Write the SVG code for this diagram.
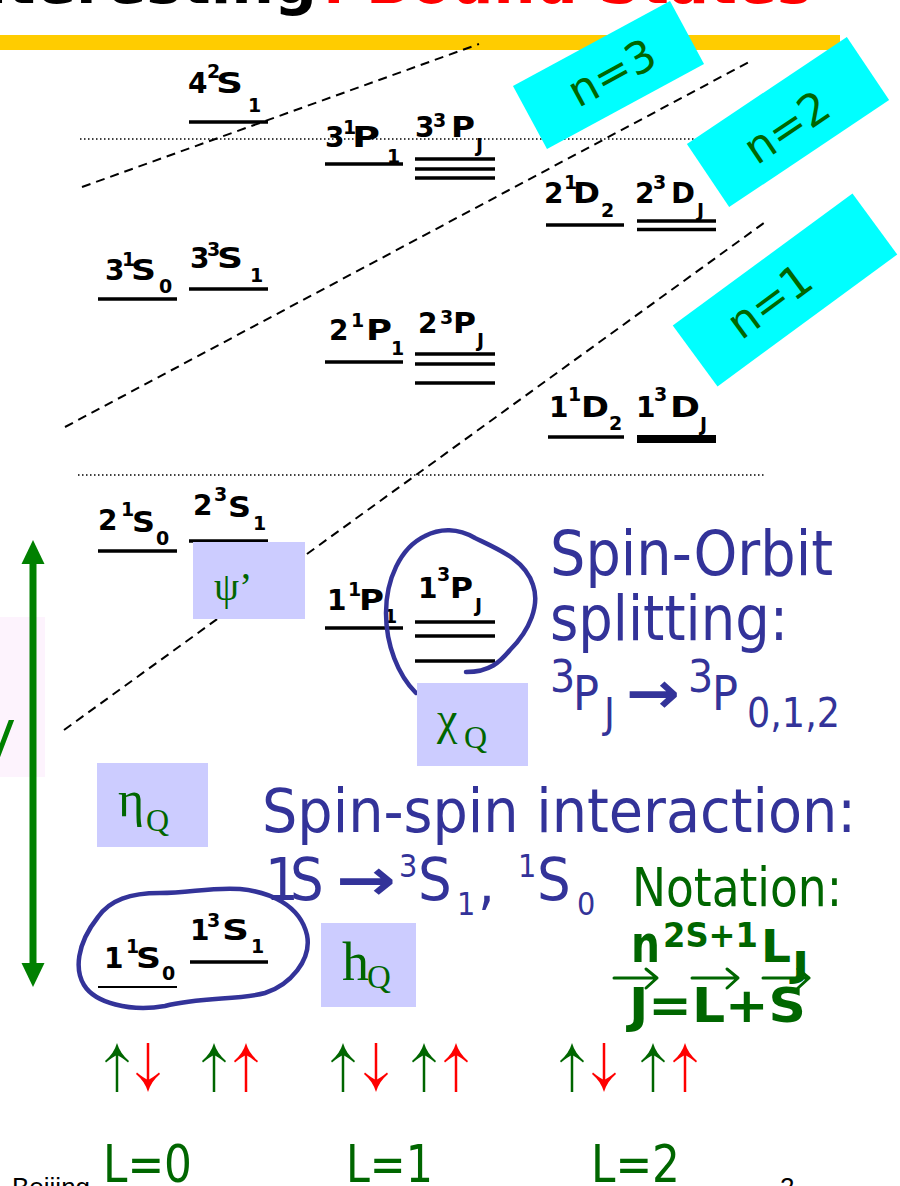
<svg xmlns="http://www.w3.org/2000/svg" width="900" height="1186" viewBox="0 0 900 1186">
<defs>
<style>
.lvl{stroke:#000;stroke-width:3.5}
.lbl{font-family:"DejaVu Sans","Liberation Sans",sans-serif;font-weight:bold;font-size:28px;fill:#000}
.sm{font-size:19px}
.dash{stroke:#000;stroke-width:2;stroke-dasharray:9 6;fill:none}
.dot{stroke:#000;stroke-width:1.5;stroke-dasharray:1.5 2.5}
.cyan{fill:#00FFFF}
.nlab{font-family:"DejaVu Sans",sans-serif;font-size:44px;fill:#006600}
.lav{fill:#CCCCFF}
.gk{font-family:"Liberation Serif","Times New Roman",serif;fill:#006600}
.blue{font-family:"DejaVu Sans Condensed","DejaVu Sans",sans-serif;fill:#333399}
.dg{font-family:"DejaVu Sans Condensed","DejaVu Sans",sans-serif;fill:#006600}
.dgb{font-family:"DejaVu Sans Condensed","DejaVu Sans",sans-serif;font-weight:bold;fill:#006600}
.loop{fill:none;stroke:#333399;stroke-width:4.5;stroke-linejoin:round;stroke-linecap:round}
.gs{stroke:#006600;stroke-width:2.5}
.rs{stroke:#FF0000;stroke-width:2.5}
.ov{stroke:#006600;stroke-width:3;fill:none;stroke-linecap:round;stroke-linejoin:round}
</style>
<path id="hu" d="M0 0 C-2 7 -6 13 -12 18 L-11 19.5 C-6 15.5 -3 13.5 0 12 C3 13.5 6 15.5 11 19.5 L12 18 C6 13 2 7 0 0Z"/>
<path id="hd" d="M0 0 C-2 -7 -6 -13 -12 -18 L-11 -19.5 C-6 -15.5 -3 -13.5 0 -12 C3 -13.5 6 -15.5 11 -19.5 L12 -18 C6 -13 2 -7 0 0Z"/>
</defs>
<rect width="900" height="1186" fill="#fff"/>

<g id="title">
<text x="317" y="3" text-anchor="end" font-family="DejaVu Sans,sans-serif" font-weight="bold" font-size="60" fill="#000">Interesting</text>
<text x="322" y="3" font-family="DejaVu Sans,sans-serif" font-weight="bold" font-size="60" fill="#FF0000" textLength="490" lengthAdjust="spacingAndGlyphs">: Bound States</text>
</g>
<rect id="bar" x="0" y="35" width="840" height="15" fill="#FFCC00"/>

<g id="leftfrag">
<rect x="0" y="617" width="45" height="160" fill="#FDF3FD"/>
<text x="-21" y="758" font-family="DejaVu Sans,sans-serif" font-size="52" fill="#008000">V</text>
</g>

<g id="connectors">
<line class="dot" x1="80" y1="139" x2="765" y2="139"/>
<line class="dot" x1="78" y1="475" x2="765" y2="475"/>
<line class="dash" x1="82" y1="187" x2="479" y2="44"/>
<line class="dash" x1="65" y1="427" x2="749" y2="62"/>
<line class="dash" x1="64" y1="730" x2="768" y2="220"/>
<g id="energy-arrow" fill="#008000">
<rect x="29.5" y="560" width="7" height="406"/>
<path d="M33 540 L21.5 564 L44.5 564Z"/>
<path d="M33 987 L21.5 963 L44.5 963Z"/>
</g>
</g>

<g id="lvl-4S">
<line class="lvl" x1="189" y1="122" x2="268" y2="122"/>
<text class="lbl"><tspan x="188" y="93">4</tspan><tspan class="sm" x="207" y="78">2</tspan><tspan x="216" y="93" textLength="27" lengthAdjust="spacingAndGlyphs">S</tspan><tspan class="sm" x="248" y="112">1</tspan></text>
</g>
<g id="lvl-3P1">
<line class="lvl" x1="325" y1="164" x2="403" y2="164"/>
<text class="lbl"><tspan x="325" y="147">3</tspan><tspan class="sm" x="343" y="134">1</tspan><tspan x="352" y="147" textLength="28" lengthAdjust="spacingAndGlyphs">P</tspan><tspan class="sm" x="387" y="163">1</tspan></text>
</g>
<g id="lvl-3PJ">
<line class="lvl" x1="415" y1="159" x2="495" y2="159"/>
<line class="lvl" x1="415" y1="169" x2="495" y2="169"/>
<line class="lvl" x1="415" y1="178" x2="495" y2="178"/>
<text class="lbl"><tspan x="415" y="137">3</tspan><tspan class="sm" x="433" y="127">3</tspan><tspan x="451" y="137" textLength="24" lengthAdjust="spacingAndGlyphs">P</tspan><tspan class="sm" x="476" y="152">J</tspan></text>
</g>
<g id="lvl-3S0">
<line class="lvl" x1="98" y1="299" x2="177" y2="299"/>
<text class="lbl"><tspan x="105" y="280">3</tspan><tspan class="sm" x="122" y="266">1</tspan><tspan x="131" y="280" textLength="25" lengthAdjust="spacingAndGlyphs">S</tspan><tspan class="sm" x="159" y="293">0</tspan></text>
</g>
<g id="lvl-3S1">
<line class="lvl" x1="189" y1="289" x2="268" y2="289"/>
<text class="lbl"><tspan x="190" y="268">3</tspan><tspan class="sm" x="207" y="256">3</tspan><tspan x="217" y="268" textLength="26" lengthAdjust="spacingAndGlyphs">S</tspan><tspan class="sm" x="250" y="282">1</tspan></text>
</g>
<g id="lvl-2D2">
<line class="lvl" x1="546" y1="225" x2="624" y2="225"/>
<text class="lbl"><tspan x="544" y="203">2</tspan><tspan class="sm" x="564" y="189">1</tspan><tspan x="573" y="203" textLength="27" lengthAdjust="spacingAndGlyphs">D</tspan><tspan class="sm" x="601" y="217">2</tspan></text>
</g>
<g id="lvl-2DJ">
<line class="lvl" x1="637" y1="221" x2="716" y2="221"/>
<line class="lvl" x1="637" y1="229.5" x2="716" y2="229.5"/>
<text class="lbl"><tspan x="635" y="203">2</tspan><tspan class="sm" x="653" y="189">3</tspan><tspan x="671" y="203" textLength="24" lengthAdjust="spacingAndGlyphs">D</tspan><tspan class="sm" x="697" y="217">J</tspan></text>
</g>
<g id="lvl-2P1">
<line class="lvl" x1="325" y1="362" x2="403" y2="362"/>
<text class="lbl"><tspan x="329" y="340">2</tspan><tspan class="sm" x="351" y="327">1</tspan><tspan x="366" y="340" textLength="26" lengthAdjust="spacingAndGlyphs">P</tspan><tspan class="sm" x="391" y="355">1</tspan></text>
</g>
<g id="lvl-2PJ">
<line class="lvl" x1="415" y1="354" x2="495" y2="354"/>
<line class="lvl" x1="415" y1="364" x2="495" y2="364"/>
<line class="lvl" x1="415" y1="383" x2="495" y2="383"/>
<text class="lbl"><tspan x="418" y="333">2</tspan><tspan class="sm" x="440" y="324">3</tspan><tspan x="453" y="333" textLength="23" lengthAdjust="spacingAndGlyphs">P</tspan><tspan class="sm" x="477" y="347">J</tspan></text>
</g>
<g id="lvl-1D2">
<line class="lvl" x1="548" y1="437" x2="624" y2="437"/>
<text class="lbl"><tspan x="549" y="417">1</tspan><tspan class="sm" x="568" y="401">1</tspan><tspan x="581" y="417" textLength="28" lengthAdjust="spacingAndGlyphs">D</tspan><tspan class="sm" x="609" y="430">2</tspan></text>
</g>
<g id="lvl-1DJ">
<rect x="637" y="435" width="79" height="8" fill="#000"/>
<text class="lbl"><tspan x="636" y="417">1</tspan><tspan class="sm" x="654" y="401">3</tspan><tspan x="670" y="417" textLength="30" lengthAdjust="spacingAndGlyphs">D</tspan><tspan class="sm" x="700" y="431">J</tspan></text>
</g>
<g id="lvl-2S0">
<line class="lvl" x1="98" y1="551" x2="177" y2="551"/>
<text class="lbl"><tspan x="98" y="530">2</tspan><tspan class="sm" x="121" y="516">1</tspan><tspan x="132" y="532" textLength="23" lengthAdjust="spacingAndGlyphs">S</tspan><tspan class="sm" x="156" y="545">0</tspan></text>
</g>
<g id="lvl-2S1">
<line class="lvl" x1="189" y1="541" x2="268" y2="541"/>
<text class="lbl"><tspan x="193" y="515">2</tspan><tspan class="sm" x="214" y="501">3</tspan><tspan x="228" y="517" textLength="23" lengthAdjust="spacingAndGlyphs">S</tspan><tspan class="sm" x="253" y="530">1</tspan></text>
</g>
<g id="lvl-1P1">
<line class="lvl" x1="325" y1="628" x2="403" y2="628"/>
<text class="lbl"><tspan x="327" y="610">1</tspan><tspan class="sm" x="348" y="596">1</tspan><tspan x="359" y="610" textLength="25" lengthAdjust="spacingAndGlyphs">P</tspan><tspan class="sm" x="384" y="623">1</tspan></text>
</g>
<g id="lvl-1PJ">
<line class="lvl" x1="415" y1="622" x2="495" y2="622"/>
<line class="lvl" x1="415" y1="636" x2="495" y2="636"/>
<line class="lvl" x1="415" y1="661" x2="495" y2="661"/>
<text class="lbl"><tspan x="418" y="598">1</tspan><tspan class="sm" x="437" y="581">3</tspan><tspan x="450" y="598" textLength="23" lengthAdjust="spacingAndGlyphs">P</tspan><tspan class="sm" x="475" y="612">J</tspan></text>
</g>
<g id="lvl-1S0">
<line x1="98" y1="987" x2="177" y2="987" stroke="#000" stroke-width="2"/>
<text class="lbl"><tspan x="104" y="968">1</tspan><tspan class="sm" x="126" y="953">1</tspan><tspan x="136" y="968" textLength="25" lengthAdjust="spacingAndGlyphs">S</tspan><tspan class="sm" x="162" y="980">0</tspan></text>
</g>
<g id="lvl-1S1">
<line class="lvl" x1="190" y1="962" x2="268" y2="962"/>
<text class="lbl"><tspan x="190" y="940">1</tspan><tspan class="sm" x="207" y="927">3</tspan><tspan x="222" y="940" textLength="27" lengthAdjust="spacingAndGlyphs">S</tspan><tspan class="sm" x="251" y="953">1</tspan></text>
</g>

<g id="loop-P">
<path class="loop" d="M416 693 C398 675 386 645 386 613 C386 580 400 548 425 536 C440 528 458 528 475 538 C500 550 525 560 533 585 C540 605 530 630 510 650 C500 662 490 672 466 672"/>
</g>
<g id="loop-S">
<path class="loop" d="M98 917 C110 900 130 893 160 893 C190 893 210 887 240 889 C270 892 300 905 307 935 C312 960 290 985 265 993 C240 1000 200 997 165 1006 C130 1012 95 1003 84 985 C75 970 76 945 98 917Z"/>
</g>

<g id="box-psi">
<rect class="lav" x="193" y="542" width="112" height="77"/>
<text class="gk" x="214" y="600" font-size="40">ψ’</text>
</g>
<g id="box-chi">
<rect class="lav" x="417" y="683" width="111" height="83"/>
<text class="gk"><tspan x="437" y="734" font-size="46">χ</tspan><tspan x="464" y="748" font-size="32">Q</tspan></text>
</g>
<g id="box-eta">
<rect class="lav" x="97" y="763" width="111" height="84"/>
<text class="gk"><tspan x="118" y="816" font-size="50">η</tspan><tspan x="146" y="831" font-size="32">Q</tspan></text>
</g>
<g id="box-h">
<rect class="lav" x="321" y="923" width="95" height="84"/>
<text class="gk"><tspan x="342" y="980" font-size="54">h</tspan><tspan x="367" y="988" font-size="33">Q</tspan></text>
</g>

<g id="n3" transform="translate(608.5 75) rotate(-28.4)">
<rect class="cyan" x="-89.25" y="-35.8" width="178.5" height="71.6"/>
<text class="nlab" x="4" y="15" text-anchor="middle">n=3</text>
</g>
<g id="n2" transform="translate(788 122) rotate(-33.8)">
<rect class="cyan" x="-96.25" y="-38" width="192.5" height="76"/>
<text class="nlab" x="-4" y="19" text-anchor="middle">n=2</text>
</g>
<g id="n1" transform="translate(785 290) rotate(-36.3)">
<rect class="cyan" x="-111.5" y="-37.8" width="223" height="75.6"/>
<text class="nlab" x="-19" y="15" text-anchor="middle">n=1</text>
</g>

<g id="spin-orbit">
<text class="blue" x="550" y="575" font-size="62" textLength="283" lengthAdjust="spacingAndGlyphs">Spin-Orbit</text>
<text class="blue" x="550" y="640" font-size="62" textLength="238" lengthAdjust="spacingAndGlyphs">splitting:</text>
<text class="blue"><tspan x="550" y="692" font-size="44">3</tspan><tspan x="573" y="710" font-size="48">P</tspan><tspan x="604" y="727" font-size="41">J</tspan></text>
<text class="blue" x="626" y="713" font-size="58" font-weight="bold" textLength="54" lengthAdjust="spacingAndGlyphs">→</text>
<text class="blue"><tspan x="688" y="692" font-size="44">3</tspan><tspan x="712" y="710" font-size="48">P</tspan></text>
<text class="blue" x="747" y="727" font-size="41" textLength="93" lengthAdjust="spacingAndGlyphs">0,1,2</text>
</g>

<g id="spin-spin">
<text class="blue" x="262" y="832" font-size="60" textLength="594" lengthAdjust="spacingAndGlyphs">Spin-spin interaction:</text>
<text class="blue" font-size="59"><tspan x="265" y="900">1</tspan><tspan x="290" y="900">S</tspan></text>
<text class="blue" x="336" y="900" font-size="58" font-weight="bold" textLength="60" lengthAdjust="spacingAndGlyphs">→</text>
<text class="blue" font-size="59"><tspan x="399" y="877" font-size="32">3</tspan><tspan x="418" y="900">S</tspan><tspan x="457" y="915" font-size="32">1</tspan><tspan x="478" y="903">,</tspan><tspan x="518" y="877" font-size="32">1</tspan><tspan x="537" y="900">S</tspan><tspan x="577" y="915" font-size="32">0</tspan></text>
</g>

<g id="notation">
<text class="dg" x="632" y="906" font-size="53" textLength="210" lengthAdjust="spacingAndGlyphs">Notation:</text>
<text class="dgb" x="631" y="962" font-size="52" textLength="29" lengthAdjust="spacingAndGlyphs">n</text>
<text class="dgb" x="663" y="947" font-size="34" textLength="95" lengthAdjust="spacingAndGlyphs">2S+1</text>
<text class="dgb" x="761" y="962" font-size="44" textLength="30" lengthAdjust="spacingAndGlyphs">L</text>
<text class="dgb" x="792" y="977" font-size="36" textLength="17" lengthAdjust="spacingAndGlyphs">J</text>
<text class="dgb" x="629" y="1022" font-size="48" textLength="177" lengthAdjust="spacingAndGlyphs">J=L+S</text>
<path class="ov" d="M614 978 H657 M646 969 L657 978 L646 988"/>
<path class="ov" d="M692 978 H738 M727 969 L738 978 L727 988"/>
<path class="ov" d="M763 978 H809 M798 969 L809 978 L798 988"/>
</g>

<g id="spins">
<g fill="#006600">
<line class="gs" x1="117" y1="1050" x2="117" y2="1092"/><use href="#hu" x="117" y="1043"/>
<line class="gs" x1="214" y1="1050" x2="214" y2="1092"/><use href="#hu" x="214" y="1043"/>
<line class="gs" x1="343" y1="1050" x2="343" y2="1092"/><use href="#hu" x="343" y="1043"/>
<line class="gs" x1="424" y1="1050" x2="424" y2="1092"/><use href="#hu" x="424" y="1043"/>
<line class="gs" x1="572" y1="1050" x2="572" y2="1092"/><use href="#hu" x="572" y="1043"/>
<line class="gs" x1="653" y1="1050" x2="653" y2="1092"/><use href="#hu" x="653" y="1043"/>
</g>
<g fill="#FF0000">
<line class="rs" x1="148" y1="1043" x2="148" y2="1085"/><use href="#hd" x="148" y="1092"/>
<line class="rs" x1="246" y1="1050" x2="246" y2="1092"/><use href="#hu" x="246" y="1043"/>
<line class="rs" x1="376" y1="1043" x2="376" y2="1085"/><use href="#hd" x="376" y="1092"/>
<line class="rs" x1="456" y1="1050" x2="456" y2="1092"/><use href="#hu" x="456" y="1043"/>
<line class="rs" x1="604" y1="1043" x2="604" y2="1085"/><use href="#hd" x="604" y="1092"/>
<line class="rs" x1="685" y1="1050" x2="685" y2="1092"/><use href="#hu" x="685" y="1043"/>
</g>
</g>

<g id="footer">
<text x="12" y="1196" font-family="Liberation Sans,Arial,sans-serif" font-size="26" fill="#000">Beijing</text>
<text x="780" y="1196" font-family="Liberation Sans,Arial,sans-serif" font-size="26" fill="#000">2</text>
</g>

<g id="L-labels">
<text class="dg" x="103" y="1182" font-size="51" textLength="89" lengthAdjust="spacingAndGlyphs">L=0</text>
<text class="dg" x="346" y="1182" font-size="51" textLength="87" lengthAdjust="spacingAndGlyphs">L=1</text>
<text class="dg" x="591" y="1182" font-size="51" textLength="89" lengthAdjust="spacingAndGlyphs">L=2</text>
</g>
</svg>
